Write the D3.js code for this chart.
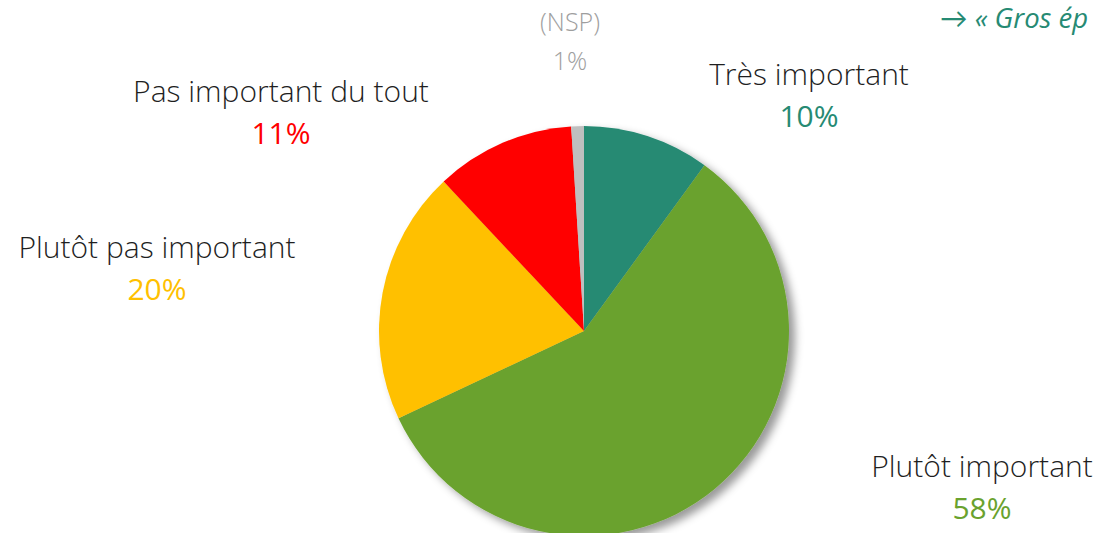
<!DOCTYPE html>
<html>
<head>
<meta charset="utf-8">
<script src="https://cdn.jsdelivr.net/npm/d3@7"></script>
<style>
  body { margin: 0; background: #fff; overflow: hidden; }
  text { font-family: "Open Sans", "Lato", sans-serif; }
</style>
</head>
<body>
<div id="chart"></div>
<script>
// categories, clockwise from 12 o'clock
var categories = ["Très important", "Plutôt important", "Plutôt pas important", "Pas important du tout", "(NSP)"];
var values = [10, 58, 20, 11, 1];
var colors = ["#268A73", "#6AA22E", "#FFC000", "#FF0000", "#BFBFBF"];
var labelColors = ["#268A73", "#6AA22E", "#FFC000", "#FF0000", "#9E9E9E"];
var nameColors = ["#1f1f1f", "#1f1f1f", "#1f1f1f", "#1f1f1f", "#9E9E9E"];

// label anchor points (center of text block, name baseline)
var labelPos = [[809, 85], [982, 477], [157, 258], [281, 102], [570, 31]];

const width = 1099;
const height = 533;
const cx = 584, cy = 331, radius = 205;

const svg = d3.select("#chart").append("svg")
    .attr("width", width)
    .attr("height", height);

const defs = svg.append("defs");
const f = defs.append("filter").attr("id", "shadow")
    .attr("x", "-10%").attr("y", "-10%").attr("width", "130%").attr("height", "130%");
f.append("feDropShadow")
    .attr("dx", 6).attr("dy", 5)
    .attr("stdDeviation", 4)
    .attr("flood-color", "#000")
    .attr("flood-opacity", 0.4);

const pie = d3.pie().sort(null).value(d => d);
const arc = d3.arc().innerRadius(0).outerRadius(radius);

const g = svg.append("g")
    .attr("transform", `translate(${cx},${cy})`)
    .attr("filter", "url(#shadow)");

g.selectAll("path")
    .data(pie(values))
    .join("path")
    .attr("d", arc)
    .attr("fill", (d, i) => colors[i]);

// labels
const lab = svg.append("g").selectAll("g")
    .data(categories)
    .join("g")
    .attr("transform", (d, i) => `translate(${labelPos[i][0]},${labelPos[i][1]})`);

lab.append("text")
    .attr("text-anchor", "middle")
    .attr("font-size", (d, i) => i === 4 ? 25 : 30)
    .attr("font-weight", 300)
    .attr("fill", (d, i) => nameColors[i])
    .text(d => d);

lab.append("text")
    .attr("text-anchor", "middle")
    .attr("y", (d, i) => i === 4 ? 39 : 42)
    .attr("font-size", (d, i) => i === 4 ? 25 : 30)
    .attr("font-weight", (d, i) => i === 4 ? 300 : 400)
    .attr("fill", (d, i) => labelColors[i])
    .text((d, i) => values[i] + "%");

// top-right note, only its beginning is inside the frame
svg.append("text")
    .attr("x", 940)
    .attr("y", 28)
    .attr("font-size", 27.5)
    .attr("font-style", "italic")
    .attr("font-weight", 400)
    .attr("fill", "#268A73")
    .text("\u2192 \u00AB Gros ép");
</script>
</body>
</html>
